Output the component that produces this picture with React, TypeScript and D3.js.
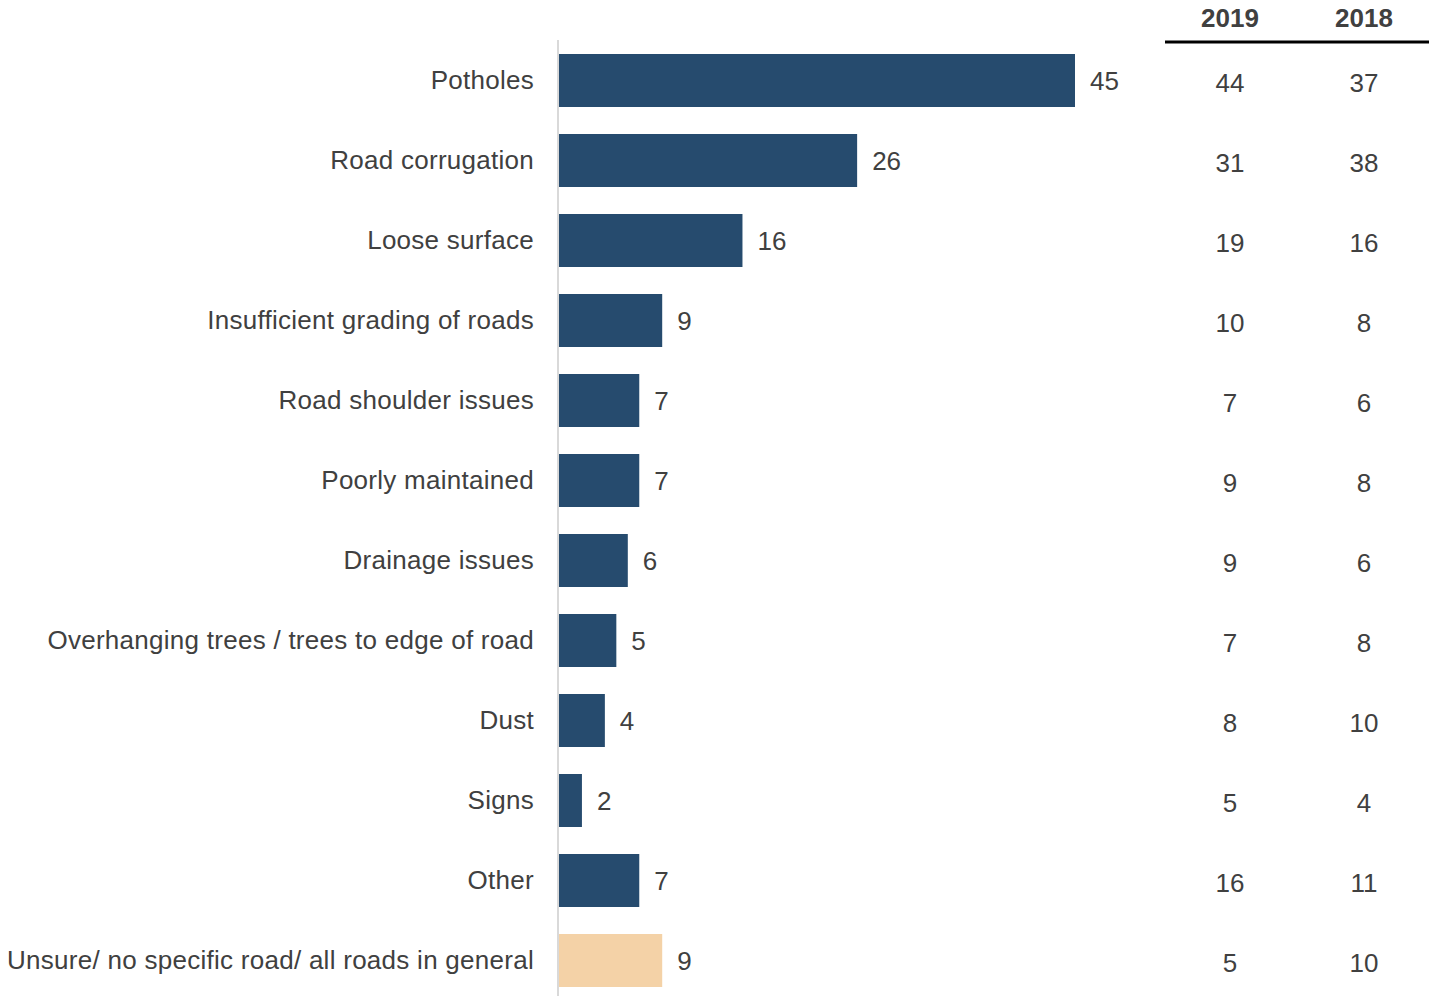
import React from "react";
import * as d3 from "d3";

const categories = [
  "Potholes",
  "Road corrugation",
  "Loose surface",
  "Insufficient grading of roads",
  "Road shoulder issues",
  "Poorly maintained",
  "Drainage issues",
  "Overhanging trees / trees to edge of road",
  "Dust",
  "Signs",
  "Other",
  "Unsure/ no specific road/ all roads in general",
];
const values2020 = [45, 26, 16, 9, 7, 7, 6, 5, 4, 2, 7, 9];
const values2019 = [44, 31, 19, 10, 7, 9, 9, 7, 8, 5, 16, 5];
const values2018 = [37, 38, 16, 8, 6, 8, 6, 8, 10, 4, 11, 10];
const columnHeaders = ["2019", "2018"];

const W = 1429;
const H = 996;
const FONT = "Arial, 'Liberation Sans', Helvetica, sans-serif";
const TEXT = "#404040";
const FS = 26;

export default function App() {
  const x = d3.scaleLinear().domain([0, 45]).range([559, 1075]);
  const y = d3
    .scaleBand<string>()
    .domain(categories)
    .range([40.5, 1000.5])
    .paddingInner(0.3375)
    .paddingOuter(0.16875);
  const bw = y.bandwidth();
  const col2019 = 1230;
  const col2018 = 1364;
  return (
    <svg
      width={W}
      height={H}
      style={{ position: "absolute", left: 0, top: 0, background: "#fff" }}
      fontFamily={FONT}
    >
      <line x1={558} x2={558} y1={40} y2={996} stroke="#d9d9d9" strokeWidth={2} />
      {categories.map((c, i) => {
        const yy = y(c)!;
        const cy = yy + bw / 2;
        const last = i === categories.length - 1;
        return (
          <g key={c}>
            <rect
              x={x(0)}
              y={yy}
              width={x(values2020[i]) - x(0)}
              height={bw}
              fill={last ? "#f4d2a7" : "#264b6e"}
            />
            <text
              x={534}
              y={cy + 8.5}
              textAnchor="end"
              fontSize={FS}
              fill={TEXT}
              letterSpacing={0.27}
            >
              {c}
            </text>
            <text x={x(values2020[i]) + 15} y={cy + 9.5} fontSize={FS} fill={TEXT}>
              {values2020[i]}
            </text>
            <text x={col2019} y={cy + 11.5} textAnchor="middle" fontSize={FS} fill={TEXT}>
              {values2019[i]}
            </text>
            <text x={col2018} y={cy + 11.5} textAnchor="middle" fontSize={FS} fill={TEXT}>
              {values2018[i]}
            </text>
          </g>
        );
      })}
      <text x={col2019} y={27} textAnchor="middle" fontSize={FS} fontWeight="bold" fill={TEXT}>
        {columnHeaders[0]}
      </text>
      <text x={col2018} y={27} textAnchor="middle" fontSize={FS} fontWeight="bold" fill={TEXT}>
        {columnHeaders[1]}
      </text>
      <line x1={1165} x2={1429} y1={42} y2={42} stroke="#000" strokeWidth={3} />
    </svg>
  );
}
